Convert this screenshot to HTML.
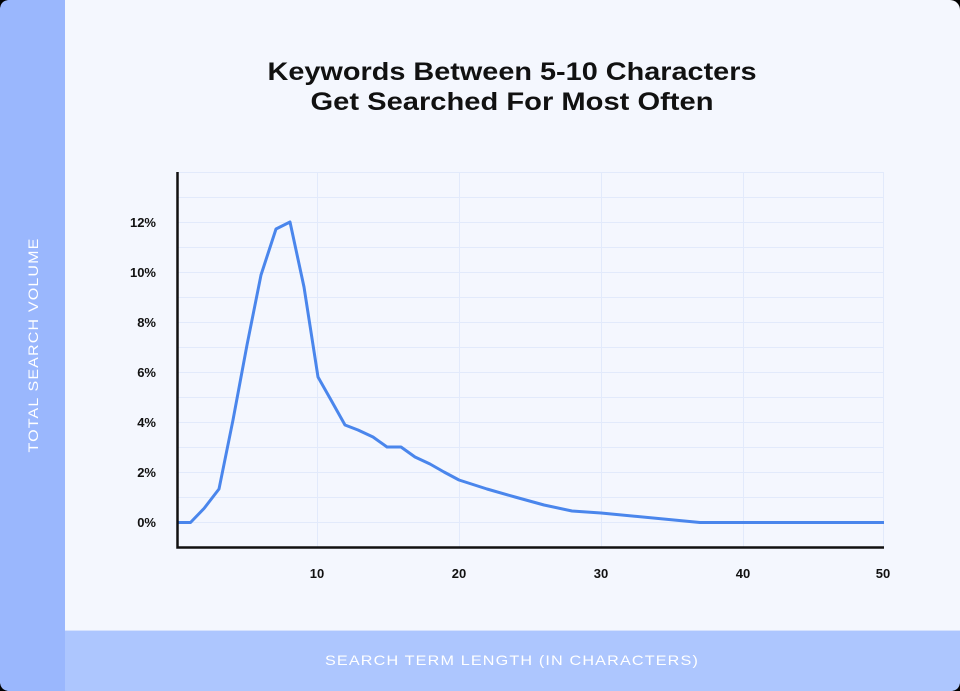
<!DOCTYPE html>
<html><head><meta charset="utf-8"><style>
html,body{margin:0;padding:0;background:#000;}
svg{display:block;}
</style></head><body>
<svg width="960" height="691" viewBox="0 0 960 691" xmlns="http://www.w3.org/2000/svg" font-family="Liberation Sans, sans-serif">
<rect x="0" y="0" width="960" height="691" rx="10" fill="#f4f7fe"/>
<path d="M10 0 H65 V691 H10 Q0 691 0 681 V10 Q0 0 10 0Z" fill="#9ab7fd"/>
<path d="M65 630 H960 V681 Q960 691 950 691 H65Z" fill="#adc6fe"/>
<line x1="65" y1="630.5" x2="960" y2="630.5" stroke="#d6e2fd" stroke-width="1"/>
<text x="512" y="80" text-anchor="middle" font-size="25" font-weight="bold" fill="#111" textLength="489" lengthAdjust="spacingAndGlyphs">Keywords Between 5-10 Characters</text>
<text x="512" y="110" text-anchor="middle" font-size="25" font-weight="bold" fill="#111" textLength="403" lengthAdjust="spacingAndGlyphs">Get Searched For Most Often</text>
<g stroke="#e2eafb" stroke-width="1">
<line x1="177" y1="172.5" x2="884" y2="172.5"/><line x1="177" y1="197.5" x2="884" y2="197.5"/>
<line x1="177" y1="222.5" x2="884" y2="222.5"/><line x1="177" y1="247.5" x2="884" y2="247.5"/>
<line x1="177" y1="272.5" x2="884" y2="272.5"/><line x1="177" y1="297.5" x2="884" y2="297.5"/>
<line x1="177" y1="322.5" x2="884" y2="322.5"/><line x1="177" y1="347.5" x2="884" y2="347.5"/>
<line x1="177" y1="372.5" x2="884" y2="372.5"/><line x1="177" y1="397.5" x2="884" y2="397.5"/>
<line x1="177" y1="422.5" x2="884" y2="422.5"/><line x1="177" y1="447.5" x2="884" y2="447.5"/>
<line x1="177" y1="472.5" x2="884" y2="472.5"/><line x1="177" y1="497.5" x2="884" y2="497.5"/>
<line x1="177" y1="522.5" x2="884" y2="522.5"/>
<line x1="317.5" y1="172" x2="317.5" y2="547"/><line x1="459.5" y1="172" x2="459.5" y2="547"/>
<line x1="601.5" y1="172" x2="601.5" y2="547"/><line x1="743.5" y1="172" x2="743.5" y2="547"/>
<line x1="883.5" y1="172" x2="883.5" y2="547"/>
</g>
<polyline fill="none" stroke="#4a86ec" stroke-width="3" stroke-linejoin="round" points="178,522.5 190.5,522.5 204,508.5 219,489 233,420 247,345 261,275 276,229 290,222 304,287 318,377 331,400 345,425 358,430 373,437 387,447 401,447 415,457 430,464 444,472 459,480 487,489 515,497 544,505 572,511 601,513 700,522.5 884,522.5"/>
<path d="M177.5 172 V547.5 H884" fill="none" stroke="#111" stroke-width="2.5"/>
<g font-size="13" font-weight="bold" fill="#111" text-anchor="end">
<text x="156" y="227">12%</text><text x="156" y="277">10%</text><text x="156" y="327">8%</text>
<text x="156" y="377">6%</text><text x="156" y="427">4%</text><text x="156" y="477">2%</text>
<text x="156" y="527">0%</text>
</g>
<g font-size="13" font-weight="bold" fill="#111" text-anchor="middle">
<text x="317" y="578">10</text><text x="459" y="578">20</text><text x="601" y="578">30</text>
<text x="743" y="578">40</text><text x="883" y="578">50</text>
</g>
<text x="512" y="665" text-anchor="middle" font-size="14" fill="#fff" letter-spacing="1" textLength="374" lengthAdjust="spacingAndGlyphs">SEARCH TERM LENGTH (IN CHARACTERS)</text>
<text transform="translate(38,345) rotate(-90)" text-anchor="middle" font-size="14" fill="#fff" letter-spacing="1" textLength="215" lengthAdjust="spacingAndGlyphs">TOTAL SEARCH VOLUME</text>
</svg>
</body></html>
